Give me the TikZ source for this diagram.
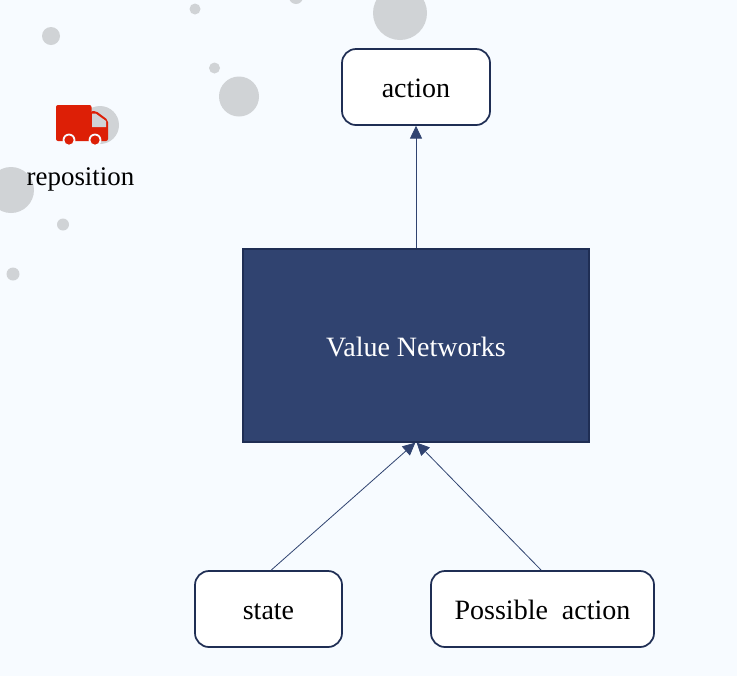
\documentclass[tikz,border=0pt]{standalone}
\usepackage{fontspec}
\setmainfont{Liberation Serif}
\usetikzlibrary{arrows.meta}
\definecolor{bgc}{HTML}{F7FBFF}
\definecolor{dotc}{HTML}{D0D3D6}
\definecolor{navy}{HTML}{304370}
\definecolor{edgec}{HTML}{1F2E54}
\definecolor{truckc}{HTML}{DD1F06}
\tikzset{
  px/.style={x=0.75pt,y=-0.75pt},
  dot/.style={fill=dotc,draw=none},
  roundbox/.style={draw=edgec,fill=white,line width=1.3pt,rounded corners=10.5pt,inner sep=0pt,font=\fontsize{21}{25}\selectfont,text=black,text height=16.4pt,text depth=0.4pt},
  netbox/.style={draw=edgec,fill=navy,line width=0.9pt,inner sep=0pt,font=\fontsize{21}{25}\selectfont,text=white,text height=16.4pt,text depth=0.4pt},
  link/.style={draw=navy,line width=0.6pt,-{Triangle[length=9.5pt,width=9pt,fill=navy]}}
}
\begin{document}
\begin{tikzpicture}[px]
\useasboundingbox (0,0) rectangle (737,676);
\fill[bgc] (0,0) rectangle (737,676);
% scattered dots
\foreach \x/\y/\r in {400/13/27, 296/-3/7, 195/9/5.5, 51/36/9, 214.5/68/5.5, 239/96.5/20, 100/125/19, 11/190/23, 63/224.5/6, 13/274/6.5}
  \fill[dot] (\x,\y) circle[radius=\r*0.75pt];
% truck
\fill[truckc,rounded corners=1.5pt] (56,105) -- (91.5,105) -- (91.5,141) -- (56,141) -- cycle;
\fill[truckc,rounded corners=1.5pt] (91,111) -- (96,111) -- (108,120) -- (108,141) -- (91,141) -- cycle;
\fill[dotc] (92,113.5) -- (95.5,113.5) -- (106,121) -- (106,127) -- (92,127) -- cycle;
\fill[bgc] (69,140) circle[radius=6.4*0.75pt];
\fill[truckc] (69,140) circle[radius=4.6*0.75pt];
\fill[bgc] (95,140) circle[radius=6.4*0.75pt];
\fill[truckc] (95,140) circle[radius=4.6*0.75pt];
\node[font=\fontsize{20.2}{24}\selectfont,inner sep=0pt,text=black] (repo) at (80.5,179) {reposition};
% nodes
\node[roundbox,minimum width=111pt,minimum height=57pt] (action) at (416,87) {action};
\node[netbox,minimum width=259.5pt,minimum height=144.75pt] (net) at (416,345.5) {Value Networks};
\node[roundbox,minimum width=110.25pt,minimum height=57pt] (state) at (268.5,609) {state};
\node[roundbox,minimum width=167.25pt,minimum height=57pt] (poss) at (542.5,609) {Possible\ \ action};
% connectors
\draw[link] (net.north) -- (action.south);
\draw[link] ([xshift=2pt]state.north) -- ([xshift=-0.5pt]net.south);
\draw[link] ([xshift=-1pt]poss.north) -- ([xshift=0.5pt]net.south);
\end{tikzpicture}
\end{document}
